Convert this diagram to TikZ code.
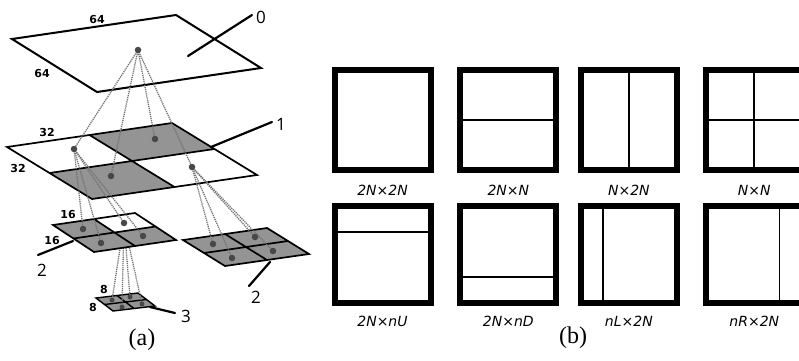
\documentclass[tikz,border=0pt]{standalone}
\usepackage{fontspec}
\setmainfont{Liberation Serif}
\newfontfamily\osans{Open Sans}
\newfontfamily\dsans{DejaVu Sans}
\usetikzlibrary{calc}
\newcommand\defplane[4]{%
  \coordinate (#1L) at #2;
  \coordinate (#1T) at #3;
  \coordinate (#1B) at #4;
  \coordinate (#1R) at ($(#1T)+(#1B)-(#1L)$);
  \coordinate (#1LT) at ($(#1L)!0.5!(#1T)$);
  \coordinate (#1TR) at ($(#1T)!0.5!(#1R)$);
  \coordinate (#1RB) at ($(#1R)!0.5!(#1B)$);
  \coordinate (#1BL) at ($(#1B)!0.5!(#1L)$);
  \coordinate (#1C) at ($(#1L)!0.5!(#1R)$);
}
\newcommand\qT[1]{(#1T) -- (#1TR) -- (#1C) -- (#1LT) -- cycle}
\newcommand\qL[1]{(#1L) -- (#1LT) -- (#1C) -- (#1BL) -- cycle}
\newcommand\qB[1]{(#1B) -- (#1BL) -- (#1C) -- (#1RB) -- cycle}
\newcommand\qR[1]{(#1R) -- (#1TR) -- (#1C) -- (#1RB) -- cycle}
\newcommand\outline[1]{(#1L) -- (#1T) -- (#1R) -- (#1B) -- cycle (#1LT) -- (#1RB) (#1TR) -- (#1BL)}
\begin{document}
\begin{tikzpicture}[x=1pt,y=-1pt,
  edge/.style={draw=black, line width=1.7pt, line join=miter},
  shadeq/.style={fill=black!42},
  link/.style={draw=black!55, line width=1.3pt, dash pattern=on 1.2pt off 0.9pt},
  dotn/.style={circle, fill=black!72, inner sep=0pt, minimum size=6.5pt},
  sdot/.style={circle, fill=black!72, inner sep=0pt, minimum size=5pt},
  lead/.style={line width=2.2pt, line cap=round},
  numlbl/.style={font=\dsans\bfseries\fontsize{11}{13}\selectfont, inner sep=0pt},
  lvl/.style={font=\osans\fontsize{17}{20}\selectfont, inner sep=0pt},
  cu/.style={draw=black, line width=6pt, inner sep=0pt, outer sep=0pt, minimum width=96pt},
  cu1/.style={cu, minimum height=100pt},
  cu2/.style={cu, minimum height=97pt},
  split/.style={line width=1.8pt},
  caplbl/.style={font=\dsans\itshape\fontsize{14}{16}\selectfont, inner sep=0pt},
  sub/.style={font=\fontsize{24}{26}\selectfont, inner sep=0pt}]
\useasboundingbox (0,0) rectangle (799,360);
\clip (0,0) rectangle (799,360);
\fill[white] (0,0) rectangle (799,360);

% ---------- planes ----------
\defplane{A}{(12,39)}{(176,15)}{(97,92)}
\defplane{P}{(7,147)}{(172,123)}{(92,199)}
\defplane{Q}{(53,225)}{(135,213)}{(94,252)}
\defplane{S}{(183,240)}{(267,228)}{(225,266)}
\defplane{U}{(96,298)}{(138,293)}{(113,311)}

% dot positions
\coordinate (p0) at (138,50);
\coordinate (p1L) at (74,149);
\coordinate (p1T) at (155,139);
\coordinate (p1B) at (111,176);
\coordinate (p1R) at (192,167);
\coordinate (q1) at (83,229);
\coordinate (q2) at (124,223);
\coordinate (q3) at (101,243);
\coordinate (q4) at (143,236);
\coordinate (s1) at (213,244);
\coordinate (s2) at (255,237);
\coordinate (s3) at (232,258);
\coordinate (s4) at (273,251);
\coordinate (u1) at (112,300);
\coordinate (u2) at (130,297);
\coordinate (u3) at (122,307);
\coordinate (u4) at (142,304);

% layer 0
\draw[edge, line width=2pt] (AL) -- (AT) -- (AR) -- (AB) -- cycle;

% layer 1
\fill[white] (PL) -- (PT) -- (PR) -- (PB) -- cycle;
\fill[shadeq] \qT{P};
\fill[shadeq] \qB{P};
\draw[edge] \outline{P};

% layer 3 (behind its links)
\fill[shadeq] (UL) -- (UT) -- (UR) -- (UB) -- cycle;
\draw[edge, line width=1.4pt] \outline{U};
\foreach \u in {u1,u2,u3,u4} \draw[link] (q2) -- (\u);

% layer 2 left
\fill[white] (QL) -- (QT) -- (QR) -- (QB) -- cycle;
\fill[shadeq] \qL{Q};
\fill[shadeq] \qB{Q};
\fill[shadeq] \qR{Q};
\draw[edge] \outline{Q};

% layer 2 right
\fill[shadeq] (SL) -- (ST) -- (SR) -- (SB) -- cycle;
\draw[edge] \outline{S};

% links
\foreach \t in {p1L,p1T,p1B,p1R} \draw[link] (p0) -- (\t);
\foreach \t in {q1,q2,q3,q4} \draw[link] (p1L) -- (\t);
\foreach \t in {s1,s2,s3,s4} \draw[link] (p1R) -- (\t);

% dots
\foreach \d in {p0,p1L,p1T,p1B,p1R,q1,q2,q3,q4,s1,s2,s3,s4}
  \node[dotn] at (\d) {};
\foreach \d in {u1,u2,u3,u4} \node[sdot] at (\d) {};

% size labels
\node[numlbl] (t64a) at (97,19) {64};
\node[numlbl] (t64b) at (42,73) {64};
\node[numlbl] (t32a) at (47,132) {32};
\node[numlbl] (t32b) at (18,168) {32};
\node[numlbl] (t16a) at (68,214) {16};
\node[numlbl] (t16b) at (52,240) {16};
\node[numlbl] (t8a) at (104,289) {8};
\node[numlbl] (t8b) at (93,307) {8};

% level labels and leaders
\node[lvl] (l0) at (261,17) {0};
\node[lvl] (l1) at (281,124) {1};
\node[lvl] (l2a) at (42,270) {2};
\node[lvl] (l2b) at (256,297) {2};
\node[lvl] (l3) at (186,316) {3};
\coordinate (e0a) at (188,56); \coordinate (e0b) at (252,15);
\coordinate (e1a) at (211,147); \coordinate (e1b) at (272,122);
\coordinate (e2a) at (73,241); \coordinate (e2b) at (38,255);
\coordinate (e3a) at (270,262); \coordinate (e3b) at (249,286);
\coordinate (e4a) at (150,307); \coordinate (e4b) at (175,313);
\draw[lead] (e0a) -- (e0b);
\draw[lead] (e1a) -- (e1b);
\draw[lead] (e2a) -- (e2b);
\draw[lead] (e3a) -- (e3b);
\draw[lead] (e4a) -- (e4b);

\node[sub] (capa) at (142,340) {(a)};

% ---------- partition modes ----------
\node[cu1] (b1) at (382.5,119.85) {};
\node[cu1] (b2) at (508.3,119.85) {};
\node[cu1] (b3) at (628.85,119.85) {};
\node[cu1] (b4) at (754.3,119.85) {};
\node[cu2] (b5) at (382.5,254.35) {};
\node[cu2] (b6) at (508.3,254.35) {};
\node[cu2] (b7) at (628.85,254.35) {};
\node[cu2] (b8) at (754.3,254.35) {};

\draw[split] (b2.west) -- (b2.east);
\draw[split] (b3.north) -- (b3.south);
\draw[split] (b4.north) -- (b4.south);
\draw[split] (b4.west) -- (b4.east);
\draw[split] ($(b5.north west)!0.27!(b5.south west)$) -- ($(b5.north east)!0.27!(b5.south east)$);
\draw[split] ($(b6.north west)!0.73!(b6.south west)$) -- ($(b6.north east)!0.73!(b6.south east)$);
\draw[split] ($(b7.north west)!0.23!(b7.north east)$) -- ($(b7.south west)!0.23!(b7.south east)$);
\draw[split, line width=1.4pt] ($(b8.north west)!0.76!(b8.north east)$) -- ($(b8.south west)!0.76!(b8.south east)$);

\node[caplbl] (c1) at (382.5,190) {2N×2N};
\node[caplbl] (c2) at (508.3,190) {2N×N};
\node[caplbl] (c3) at (628.85,190) {N×2N};
\node[caplbl] (c4) at (754.3,190) {N×N};
\node[caplbl] (c5) at (382.5,321) {2N×nU};
\node[caplbl] (c6) at (508.3,321) {2N×nD};
\node[caplbl] (c7) at (628.85,321) {nL×2N};
\node[caplbl] (c8) at (754.3,321) {nR×2N};

\node[sub] (capb) at (573,338) {(b)};
\end{tikzpicture}
\end{document}
